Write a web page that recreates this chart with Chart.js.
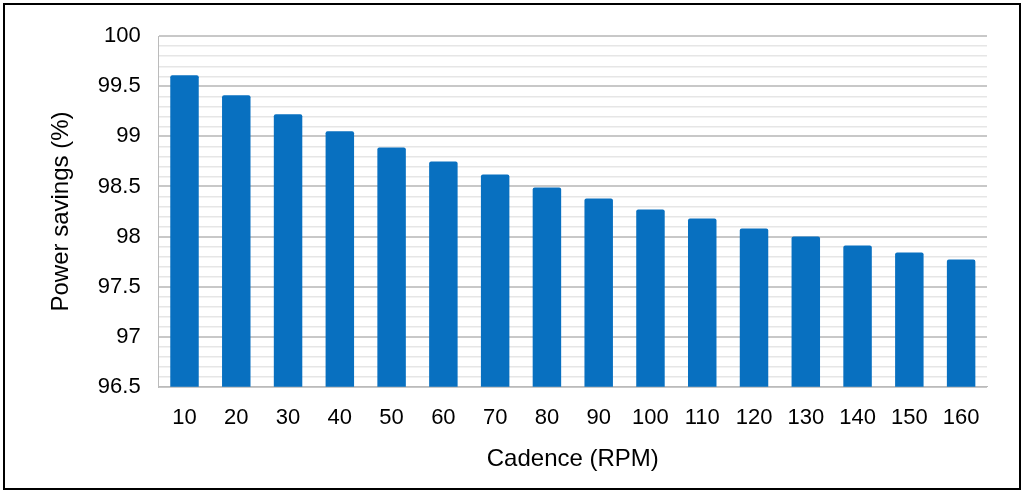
<!DOCTYPE html>
<html>
<head>
<meta charset="utf-8">
<script src="https://cdn.jsdelivr.net/npm/chart.js@4"></script>
<style>
  html, body { margin: 0; padding: 0; background: #fff; }
  #wrap { position: absolute; left: 3px; top: 3px; width: 1014px; height: 483px; border: 2px solid #000; }
</style>
</head>
<body>
<div id="wrap"><canvas id="chart"></canvas></div>
<script>
const cadence = ['10', '20', '30', '40', '50', '60', '70', '80', '90', '100', '110', '120', '130', '140', '150', '160'];
const savings = [99.61, 99.41, 99.22, 99.05, 98.89, 98.75, 98.62, 98.49, 98.38, 98.27, 98.18, 98.08, 98.0, 97.91, 97.84, 97.77];

const isMajor = v => Math.abs(v * 2 - Math.round(v * 2)) < 1e-6;

new Chart(document.getElementById('chart'), {
  type: 'bar',
  data: {
    labels: cadence,
    datasets: [{ data: savings, backgroundColor: '#0870c0', barPercentage: 0.55, categoryPercentage: 1, borderRadius: 2 }]
  },
  options: {
    responsive: true,
    maintainAspectRatio: false,
    animation: false,
    layout: { padding: { top: 24, right: 32, bottom: 10, left: 38 } },
    plugins: { legend: { display: false }, tooltip: { enabled: false } },
    scales: {
      x: {
        grid: { display: false },
        border: { color: '#bbb' },
        ticks: { padding: 10, color: '#000', font: { family: 'Arial, Liberation Sans', size: 22 } },
        title: { display: true, text: 'Cadence (RPM)', color: '#000', font: { family: 'Arial, Liberation Sans', size: 24 } }
      },
      y: {
        min: 96.5,
        max: 100,
        border: { color: '#bbb' },
        grid: {
          color: ctx => isMajor(ctx.tick.value) ? '#c8c8c8' : '#e6e6e6',
          lineWidth: ctx => isMajor(ctx.tick.value) ? 2 : 1.5,
          drawTicks: false
        },
        ticks: {
          stepSize: 0.1,
          autoSkip: false,
          padding: 18,
          color: '#000',
          font: { family: 'Arial, Liberation Sans', size: 22 },
          callback: v => isMajor(v) ? String(Math.round(v * 10) / 10) : ''
        },
        title: { display: true, text: 'Power savings (%)', color: '#000', font: { family: 'Arial, Liberation Sans', size: 24 } }
      }
    }
  }
});
</script>
</body>
</html>
